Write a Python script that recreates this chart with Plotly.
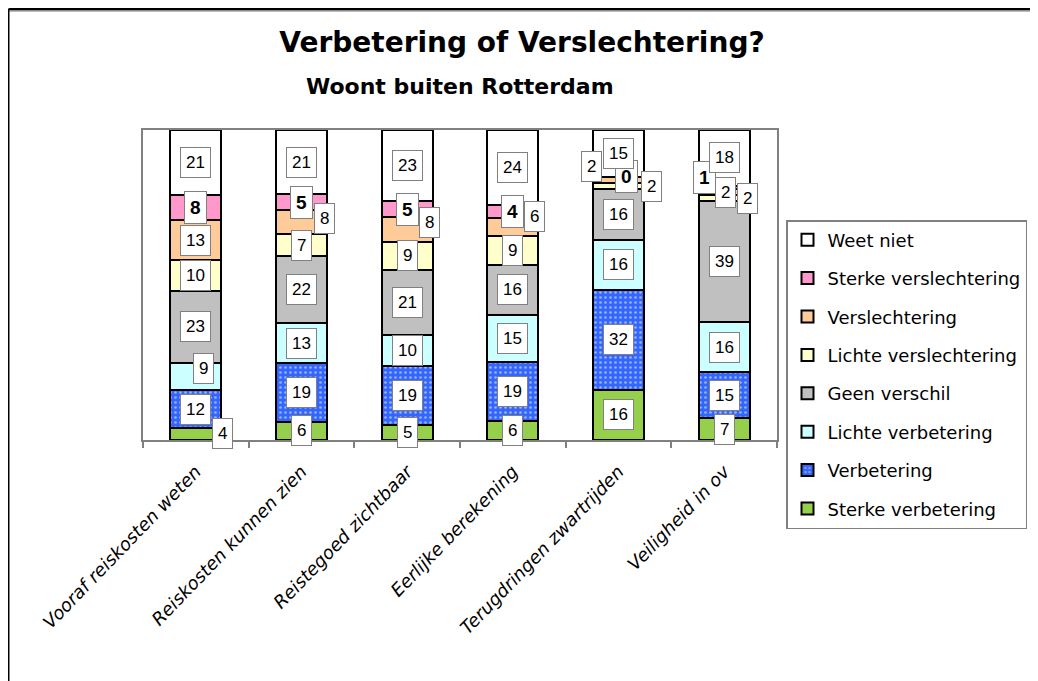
import numpy as np
import plotly.graph_objects as go

# ---------------------------------------------------------------
# data (bottom of the stack first)
# ---------------------------------------------------------------
CATEGORIES = [
    "Vooraf reiskosten weten",
    "Reiskosten kunnen zien",
    "Reistegoed zichtbaar",
    "Eerlijke berekening",
    "Terugdringen zwartrijden",
    "Veiligheid in ov",
]

SERIES = [
    "Sterke verbetering",
    "Verbetering",
    "Lichte verbetering",
    "Geen verschil",
    "Lichte verslechtering",
    "Verslechtering",
    "Sterke verslechtering",
    "Weet niet",
]

sterke_verbetering = [4, 6, 5, 6, 16, 7]
verbetering = [12, 19, 19, 19, 32, 15]
lichte_verbetering = [9, 13, 10, 15, 16, 16]
geen_verschil = [23, 22, 21, 16, 16, 39]
lichte_verslechtering = [10, 7, 9, 9, 2, 2]
verslechtering = [13, 8, 8, 6, 2, 2]
sterke_verslechtering = [8, 5, 5, 4, 0, 1]
weet_niet = [21, 21, 23, 24, 15, 18]

VALUES = [
    sterke_verbetering, verbetering, lichte_verbetering, geen_verschil,
    lichte_verslechtering, verslechtering, sterke_verslechtering, weet_niet,
]

# ---------------------------------------------------------------
# styling
# ---------------------------------------------------------------
COLORS = {
    "Sterke verbetering": "#95cf4c",
    "Verbetering": "#3366ff",
    "Lichte verbetering": "#ccffff",
    "Geen verschil": "#c0c0c0",
    "Lichte verslechtering": "#ffffcc",
    "Verslechtering": "#ffcc99",
    "Sterke verslechtering": "#ff99cc",
    "Weet niet": "#ffffff",
}

# label boxes that Excel moved away from the segment centre (px)
LABEL_NUDGE = {
    (0, "Sterke verbetering"): (27, 0),
    (0, "Lichte verbetering"): (8, 8),
    (1, "Verslechtering"): (23, 4),
    (2, "Verslechtering"): (22, 7),
    (3, "Verslechtering"): (22, 11),
    (4, "Sterke verslechtering"): (8, 0),
    (4, "Verslechtering"): (-27, 14),
    (4, "Lichte verslechtering"): (33, 0),
    (5, "Sterke verslechtering"): (-20, 10),
    (5, "Verslechtering"): (1, 0),
    (5, "Lichte verslechtering"): (23, 0),
}

# the page puts the figure 8px in from the corner
OFF = 8
W, H = 1038, 681
ML, MT = 143 - OFF, 130 - OFF
MR, MB = W - (777 - OFF), H - (440 - OFF)
PW, PH = W - ML - MR, H - MT - MB


def px_x(px):
    return (px - OFF - ML) / PW


def px_y(py):
    return (H - MB - (py - OFF)) / PH


fig = go.Figure()

for k, (name, vals) in enumerate(zip(SERIES, VALUES)):
    marker = dict(color=COLORS[name], line=dict(color="black", width=2))
    if name == "Verbetering":
        marker["pattern"] = dict(shape=".", fgcolor="white", size=5, solidity=0.22)
    fig.add_trace(go.Bar(
        x=CATEGORIES, y=vals, name=name, legendgroup=name,
        legendrank=len(SERIES) - k, marker=marker,
    ))

# data labels in white boxes
totals = np.sum(np.array(VALUES), axis=0)
cum = np.zeros(len(CATEGORIES))
for name, vals in zip(SERIES, VALUES):
    pct = np.array(vals) / totals * 100
    mid = cum + pct / 2
    bold = name == "Sterke verslechtering"
    for i, cat in enumerate(CATEGORIES):
        dx, dy = LABEL_NUDGE.get((i, name), (0, 0))
        fig.add_annotation(
            x=cat, y=mid[i], text=str(vals[i]), showarrow=False,
            xshift=dx, yshift=dy,
            bgcolor="white", bordercolor="#808080", borderwidth=1, borderpad=5,
            font=dict(family="Liberation Sans, Arial", size=19 if bold else 17,
                      color="black", weight="bold" if bold else "normal"),
        )
    cum += pct

# subtitle
fig.add_annotation(
    xref="paper", yref="paper", x=px_x(460), y=px_y(86),
    text="Woont buiten Rotterdam", showarrow=False,
    xanchor="center", yanchor="middle",
    font=dict(family="DejaVu Sans", size=22, color="black", weight="bold"),
)

# outer frame of the picture (top and left only)
fig.add_shape(type="line", xref="paper", yref="paper",
              x0=px_x(8.5), x1=px_x(W + 20), y0=px_y(11), y1=px_y(11),
              line=dict(color="#bbbbbb", width=2))
fig.add_shape(type="line", xref="paper", yref="paper",
              x0=px_x(8.5), x1=px_x(W + 20), y0=px_y(9), y1=px_y(9),
              line=dict(color="black", width=2.5))
fig.add_shape(type="line", xref="paper", yref="paper",
              x0=px_x(8.5), x1=px_x(8.5), y0=px_y(9), y1=px_y(H + 20),
              line=dict(color="black", width=2))

fig.update_layout(
    width=W, height=H,
    margin=dict(l=ML, r=MR, t=MT, b=MB, autoexpand=False),
    paper_bgcolor="white", plot_bgcolor="white",
    barmode="stack", barnorm="percent", bargap=0.52,
    title=dict(
        text="Verbetering of Verslechtering?",
        x=(522 - OFF) / W, xanchor="center", y=1 - (42 - OFF) / H, yanchor="middle",
        font=dict(family="DejaVu Sans", size=28, color="black", weight="bold"),
    ),
    showlegend=True,
    legend=dict(
        x=px_x(786), y=px_y(220), xanchor="left", yanchor="top",
        traceorder="grouped", tracegroupgap=12,
        bgcolor="white", bordercolor="#808080", borderwidth=1.5,
        font=dict(family="DejaVu Sans", size=18, color="black"),
    ),
    xaxis=dict(
        showline=True, linecolor="#808080", linewidth=2, mirror=True,
        ticks="outside", tickson="boundaries", ticklen=6, tickcolor="#808080",
        tickwidth=1.5, tickangle=-46, ticklabelstandoff=12,
        tickfont=dict(family="DejaVu Sans", size=18, color="black", style="italic"),
        showgrid=False, fixedrange=True,
    ),
    yaxis=dict(
        range=[0, 100], showline=True, linecolor="#808080", linewidth=2,
        mirror=True, showticklabels=False, ticks="", showgrid=False,
        zeroline=False, fixedrange=True,
    ),
)

fig.write_html("out.html")
